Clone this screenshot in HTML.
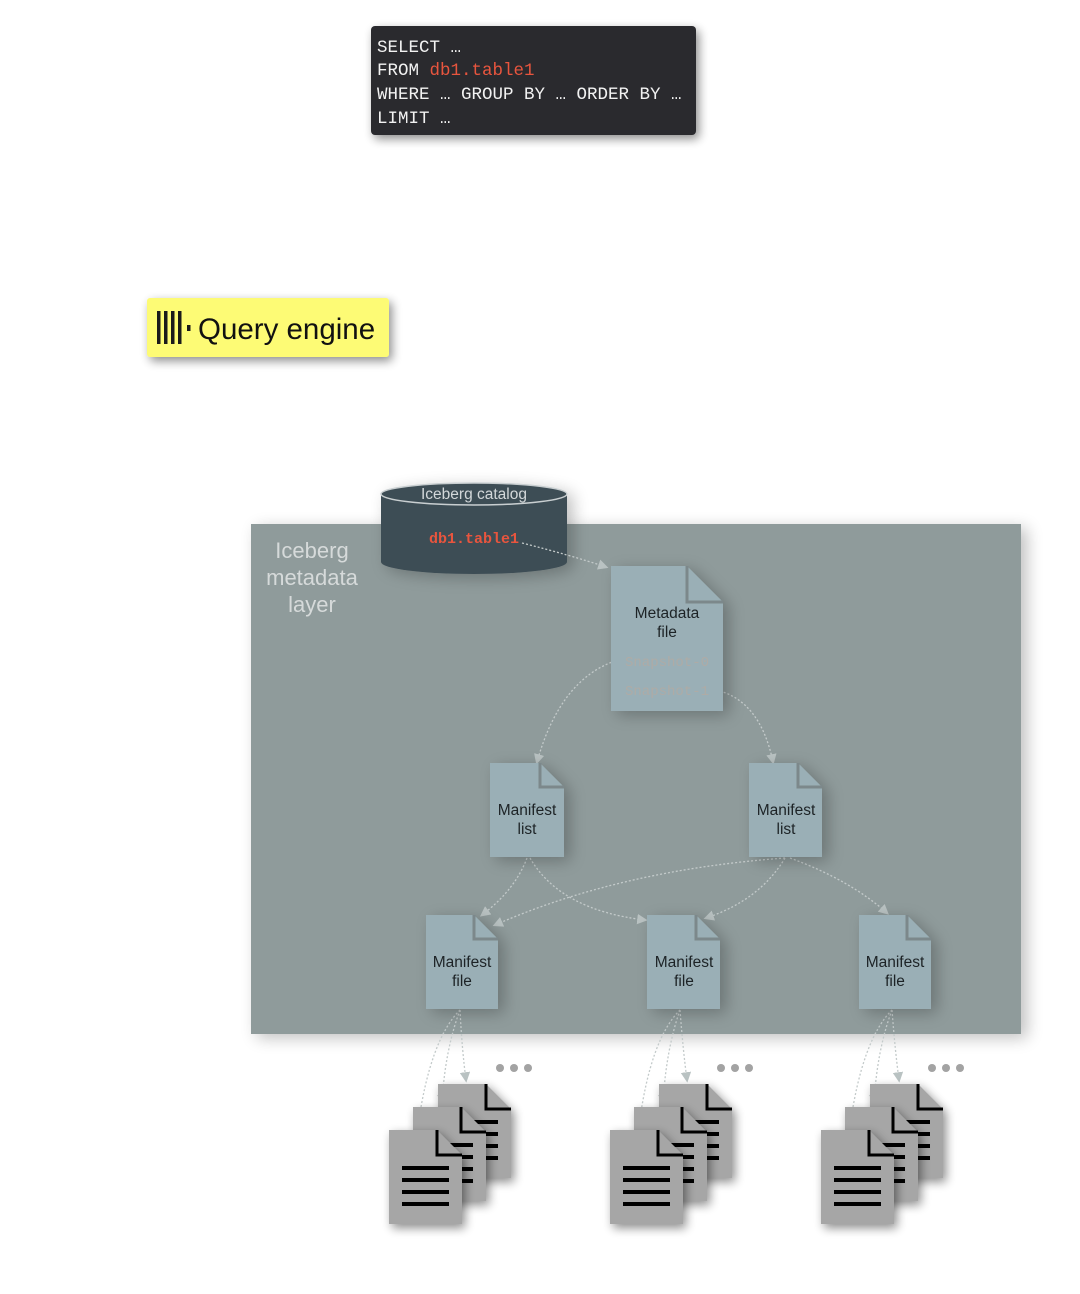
<!DOCTYPE html>
<html><head><meta charset="utf-8"><style>
html,body{margin:0;padding:0;background:#fff;}
svg{display:block}
</style></head><body>
<svg width="1080" height="1294" viewBox="0 0 1080 1294" xmlns="http://www.w3.org/2000/svg">
<defs>
<filter id="sh" x="-30%" y="-30%" width="160%" height="160%"><feGaussianBlur in="SourceAlpha" stdDeviation="5"/><feOffset dx="3" dy="4"/><feComponentTransfer><feFuncA type="linear" slope="0.45"/></feComponentTransfer><feMerge><feMergeNode/><feMergeNode in="SourceGraphic"/></feMerge></filter>
<filter id="sh2" x="-30%" y="-30%" width="160%" height="160%"><feGaussianBlur in="SourceAlpha" stdDeviation="8"/><feOffset dx="6" dy="4"/><feComponentTransfer><feFuncA type="linear" slope="0.25"/></feComponentTransfer><feMerge><feMergeNode/><feMergeNode in="SourceGraphic"/></feMerge></filter>
<marker id="ar" markerWidth="8" markerHeight="8" refX="6" refY="4" orient="auto"><path d="M0,0 L8,4 L0,8 z" fill="#b9c2c2"/></marker>
</defs>

<!-- code box -->
<rect x="371" y="26" width="325" height="109" rx="4" fill="#2a2b2e" filter="url(#sh)"/>
<g font-family="Liberation Mono, monospace" font-size="17.5" fill="#f2f2f2">
<text x="377" y="52">SELECT …</text>
<text x="377" y="75">FROM <tspan fill="#e8553e">db1.table1</tspan></text>
<text x="377" y="99">WHERE … GROUP BY … ORDER BY …</text>
<text x="377" y="123">LIMIT …</text>
</g>

<!-- query engine -->
<rect x="147" y="298" width="242" height="59" rx="3" fill="#fdfb75" filter="url(#sh)"/>
<g fill="#1a1a1a"><rect x="157" y="311" width="3.5" height="33"/><rect x="164" y="311" width="3.5" height="33"/><rect x="171" y="311" width="3.5" height="33"/><rect x="178" y="311" width="3.5" height="33"/><rect x="187" y="325" width="3.5" height="6"/></g>
<text x="198" y="339" font-family="Liberation Sans, sans-serif" font-size="29.5" fill="#111">Query engine</text>

<!-- panel -->
<rect x="251" y="524" width="770" height="510" fill="#8f9b9b" filter="url(#sh2)"/>
<g font-family="Liberation Sans, sans-serif" font-size="22" fill="#d6dada" text-anchor="middle">
<text x="312" y="558">Iceberg</text><text x="312" y="585">metadata</text><text x="312" y="612">layer</text>
</g>

<!-- cylinder -->
<g filter="url(#sh2)">
<path d="M381,494 L381,562 A93,12 0 0 0 567,562 L567,494 Z" fill="#3e4d55"/>
<ellipse cx="474" cy="494" rx="93" ry="11" fill="#3e4d55" stroke="#c9cfd1" stroke-width="1.5"/>
</g>
<text x="474" y="499" font-family="Liberation Sans, sans-serif" font-size="15.5" fill="#d3d8da" text-anchor="middle">Iceberg catalog</text>
<text x="474" y="543" font-family="Liberation Mono, monospace" font-size="15" font-weight="bold" fill="#e8553e" text-anchor="middle">db1.table1</text>

<!-- connectors -->
<g fill="none" stroke="#c3caca" stroke-width="1.3" stroke-dasharray="2,2" marker-end="url(#ar)">
<path d="M522,543 Q570,555 606,567"/>
<path d="M615,661 Q560,680 537,762"/>
<path d="M716,690 Q760,700 773,762"/>
<path d="M527,858 Q515,890 482,915"/>
<path d="M530,858 Q560,910 645,920"/>
<path d="M785,858 Q620,870 495,925"/>
<path d="M785,858 Q760,900 706,918"/>
<path d="M790,858 Q850,880 887,913"/>
<path d="M460,1010 Q430,1040 418,1126"/>
<path d="M460,1010 Q445,1050 442,1103"/>
<path d="M460,1010 Q462,1050 466,1080"/>
<path d="M680,1010 Q650,1040 639,1126"/>
<path d="M680,1010 Q666,1050 663,1103"/>
<path d="M680,1010 Q683,1050 687,1080"/>
<path d="M892,1010 Q862,1040 850,1126"/>
<path d="M892,1010 Q877,1050 874,1103"/>
<path d="M892,1010 Q895,1050 899,1080"/>
</g>

<!-- meta docs -->
<g font-family="Liberation Sans, sans-serif" font-size="15.5" fill="#1d2326" text-anchor="middle">
<g filter="url(#sh2)">
<path d="M611,566 L687,566 L723,602 L723,711 L611,711 Z" fill="#9aafb6"/>
<path d="M687,566 L687,602 L723,602" fill="none" stroke="#7b888b" stroke-width="3"/>
</g>
<text x="667" y="618">Metadata</text><text x="667" y="637">file</text>
<g font-family="Liberation Mono, monospace" font-size="14" fill="#aeaba6"><text x="667" y="666">Snapshot-0</text><text x="667" y="695">Snapshot-1</text></g>

<g filter="url(#sh2)">
<path d="M490,763 L540,763 L564,787 L564,857 L490,857 Z" fill="#9aafb6"/>
<path d="M540,763 L540,787 L564,787" fill="none" stroke="#7b888b" stroke-width="3"/>
<path d="M749,763 L798,763 L822,787 L822,857 L749,857 Z" fill="#9aafb6"/>
<path d="M798,763 L798,787 L822,787" fill="none" stroke="#7b888b" stroke-width="3"/>
</g>
<text x="527" y="815">Manifest</text><text x="527" y="834">list</text>
<text x="786" y="815">Manifest</text><text x="786" y="834">list</text>

<g filter="url(#sh2)">
<path d="M426,915 L474,915 L498,939 L498,1009 L426,1009 Z" fill="#9aafb6"/>
<path d="M474,915 L474,939 L498,939" fill="none" stroke="#7b888b" stroke-width="3"/>
<path d="M647,915 L696,915 L720,939 L720,1009 L647,1009 Z" fill="#9aafb6"/>
<path d="M696,915 L696,939 L720,939" fill="none" stroke="#7b888b" stroke-width="3"/>
<path d="M859,915 L907,915 L931,939 L931,1009 L859,1009 Z" fill="#9aafb6"/>
<path d="M907,915 L907,939 L931,939" fill="none" stroke="#7b888b" stroke-width="3"/>
</g>
<text x="462" y="967">Manifest</text><text x="462" y="986">file</text>
<text x="684" y="967">Manifest</text><text x="684" y="986">file</text>
<text x="895" y="967">Manifest</text><text x="895" y="986">file</text>
</g>

<!-- data files -->
<defs>
<g id="df">
<path d="M0,0 L48,0 L73,25 L73,94 L0,94 Z" fill="#a6a6a6"/>
<path d="M48,0 L48,25 L73,25" fill="none" stroke="#000" stroke-width="3"/>
<g fill="#000"><rect x="13" y="36" width="47" height="4"/><rect x="13" y="48" width="47" height="4"/><rect x="13" y="60" width="47" height="4"/><rect x="13" y="72" width="47" height="4"/></g>
</g>
<g id="stack">
<use href="#df" x="49" y="0" filter="url(#sh)"/>
<use href="#df" x="24" y="23" filter="url(#sh)"/>
<use href="#df" x="0" y="46" filter="url(#sh)"/>
<g fill="#a3a3a3"><circle cx="111" cy="-16" r="4"/><circle cx="125" cy="-16" r="4"/><circle cx="139" cy="-16" r="4"/></g>
</g>
</defs>
<use href="#stack" x="389" y="1084"/>
<use href="#stack" x="610" y="1084"/>
<use href="#stack" x="821" y="1084"/>
</svg>
</body></html>
